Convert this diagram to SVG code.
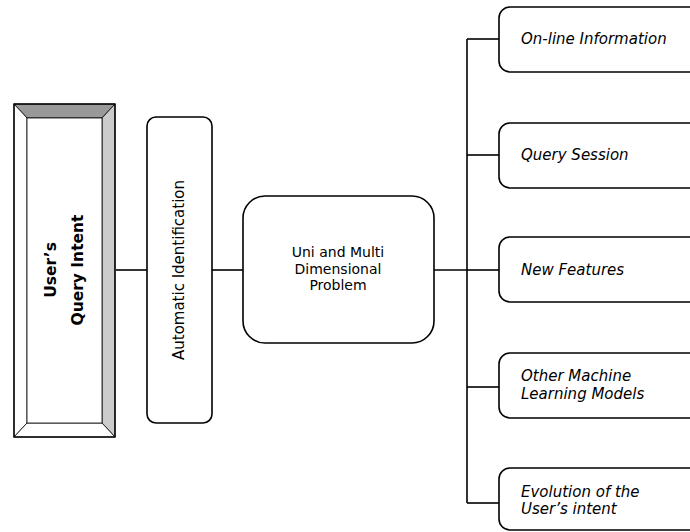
<svg xmlns="http://www.w3.org/2000/svg" width="690" height="532" viewBox="0 0 690 532">
<style>
.box{fill:#fff;stroke:#000;stroke-width:1.6}
.ln{fill:none;stroke:#000;stroke-width:1.6}
.t{font-family:"DejaVu Sans",Verdana,sans-serif;font-size:15px;fill:#000}
.it{font-style:italic}
.b{font-weight:bold;font-size:15.5px}
.u{font-size:14px}
</style>
<rect width="690" height="532" fill="#fff"/>
<g id="connectors">
<line class="ln" x1="116" y1="270" x2="147" y2="270"/>
<line class="ln" x1="212" y1="270" x2="243" y2="270"/>
<line class="ln" x1="434" y1="270" x2="467" y2="270"/>
<line class="ln" x1="467" y1="39" x2="467" y2="503"/>
<line class="ln" x1="467" y1="39" x2="499" y2="39"/>
<line class="ln" x1="467" y1="155" x2="499" y2="155"/>
<line class="ln" x1="467" y1="270" x2="499" y2="270"/>
<line class="ln" x1="467" y1="387" x2="499" y2="387"/>
<line class="ln" x1="467" y1="503" x2="499" y2="503"/>
</g>
<g id="users-query-intent">
<polygon points="14,104 115,104 102,118 27,118" fill="#999" stroke="#000" stroke-width="0.8"/>
<polygon points="115,104 115,437 102,423 102,118" fill="#ccc" stroke="#000" stroke-width="0.8"/>
<polygon points="14,104 27,118 27,423 14,437" fill="#fff" stroke="#000" stroke-width="0.8"/>
<polygon points="14,437 27,423 102,423 115,437" fill="#fff" stroke="#000" stroke-width="0.8"/>
<rect x="14" y="104" width="101" height="333" fill="none" stroke="#000" stroke-width="1.4"/>
<rect x="27" y="118" width="75" height="305" fill="#fff" stroke="#000" stroke-width="0.8"/>
<text class="t b" text-anchor="middle" transform="translate(56,270) rotate(-90)">User’s</text>
<text class="t b" text-anchor="middle" transform="translate(83,270) rotate(-90)">Query Intent</text>
</g>
<g id="automatic-identification">
<rect class="box" x="147" y="117" width="65" height="306" rx="9"/>
<text class="t" text-anchor="middle" transform="translate(184,270) rotate(-90)">Automatic Identification</text>
</g>
<g id="uni-multi">
<rect class="box" x="243" y="196" width="191" height="147" rx="22"/>
<text class="t u" text-anchor="middle" x="338" y="257">Uni and Multi</text>
<text class="t u" text-anchor="middle" x="338" y="273.5">Dimensional</text>
<text class="t u" text-anchor="middle" x="338" y="290">Problem</text>
</g>
<g id="online-information">
<rect class="box" x="499" y="7" width="210" height="65" rx="11"/>
<text class="t it" x="521" y="44">On-line Information</text>
</g>
<g id="query-session">
<rect class="box" x="499" y="123" width="210" height="65" rx="11"/>
<text class="t it" x="521" y="160">Query Session</text>
</g>
<g id="new-features">
<rect class="box" x="499" y="237" width="210" height="65" rx="11"/>
<text class="t it" x="521" y="275">New Features</text>
</g>
<g id="other-ml-models">
<rect class="box" x="499" y="353" width="210" height="65" rx="11"/>
<text class="t it" x="521" y="381">Other Machine</text>
<text class="t it" x="521" y="399">Learning Models</text>
</g>
<g id="evolution">
<rect class="box" x="499" y="468" width="210" height="62" rx="11"/>
<text class="t it" x="521" y="497">Evolution of the</text>
<text class="t it" x="521" y="514">User’s intent</text>
</g>
</svg>
